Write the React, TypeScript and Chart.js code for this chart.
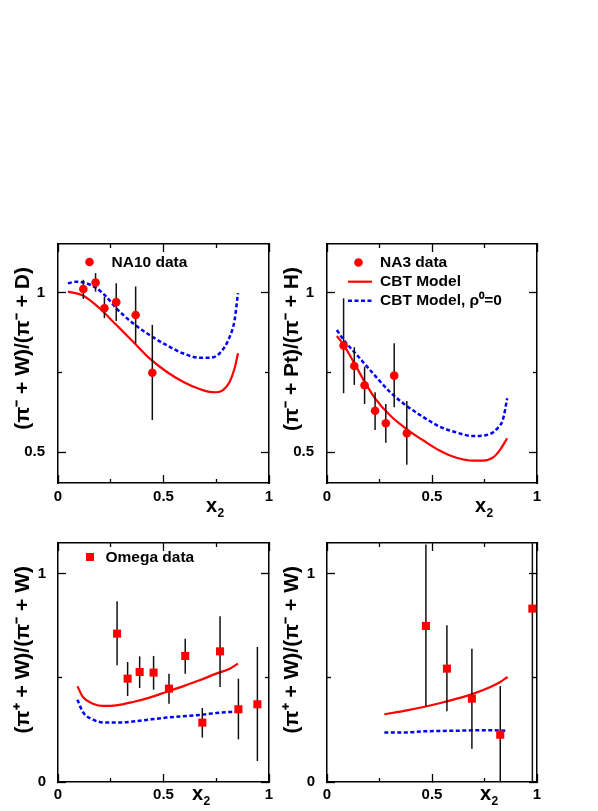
import React, { useEffect, useRef } from "react";
import { Chart, registerables } from "chart.js";
Chart.register(...registerables);

const FONT = '"Liberation Sans", Arial, Helvetica, sans-serif';
const RED = "#ff0000";
const BLUE = "#0000ff";

// ---- tick values ----
const xMajorTicks = [0, 0.5, 1];
const xMinorTicks = [0.25, 0.75];
const yTopMajorTicks = [0.5, 1];
const yTopMinorTicks = [0.75];
const yBotMajorTicks = [0, 1];
const yBotMinorTicks = [0.5];

// ---- labels ----
const yTitleTL = "(π⁻ + W)/(π⁻ + D)";
const yTitleTR = "(π⁻ + Pt)/(π⁻ + H)";
const yTitleBot = "(π⁺ + W)/(π⁻ + W)";
const labelNA10 = "NA10 data";
const labelNA3 = "NA3 data";
const labelOmega = "Omega data";
const labelCBT = "CBT Model";
const labelCBTrho = "CBT Model, ρ⁰=0";

// ---- panel 1: NA10 ----
const na10X = [0.12, 0.178, 0.22, 0.276, 0.368, 0.447];
const na10Y = [1.011, 1.031, 0.951, 0.97, 0.93, 0.749];
const na10Lo = [0.98, 1.003, 0.92, 0.911, 0.841, 0.601];
const na10Hi = [1.04, 1.061, 0.987, 1.029, 1.019, 0.899];
const na10CbtX = [0.047, 0.118, 0.197, 0.276, 0.355, 0.434, 0.513, 0.592, 0.671, 0.711, 0.75, 0.782, 0.814, 0.837, 0.853];
const na10CbtY = [1.003, 0.991, 0.951, 0.899, 0.847, 0.794, 0.753, 0.721, 0.698, 0.69, 0.688, 0.695, 0.721, 0.763, 0.81];
const na10RhoX = [0.047, 0.087, 0.134, 0.182, 0.229, 0.276, 0.355, 0.434, 0.513, 0.592, 0.671, 0.719, 0.766, 0.814, 0.837, 0.853];
const na10RhoY = [1.029, 1.034, 1.029, 1.014, 0.987, 0.951, 0.904, 0.867, 0.836, 0.81, 0.796, 0.796, 0.81, 0.862, 0.914, 0.998];

// ---- panel 2: NA3 ----
const na3X = [0.079, 0.13, 0.179, 0.229, 0.28, 0.32, 0.38];
const na3Y = [0.834, 0.77, 0.71, 0.63, 0.591, 0.74, 0.56];
const na3Lo = [0.685, 0.711, 0.651, 0.57, 0.53, 0.641, 0.461];
const na3Hi = [0.982, 0.829, 0.768, 0.688, 0.651, 0.841, 0.661];
const na3CbtX = [0.047, 0.079, 0.13, 0.179, 0.229, 0.301, 0.38, 0.459, 0.538, 0.617, 0.696, 0.744, 0.791, 0.823, 0.858];
const na3CbtY = [0.864, 0.836, 0.779, 0.721, 0.669, 0.615, 0.572, 0.537, 0.505, 0.483, 0.474, 0.474, 0.484, 0.507, 0.544];
const na3RhoX = [0.047, 0.079, 0.142, 0.222, 0.301, 0.38, 0.459, 0.538, 0.617, 0.696, 0.759, 0.807, 0.839, 0.858];
const na3RhoY = [0.883, 0.852, 0.805, 0.745, 0.688, 0.645, 0.61, 0.58, 0.562, 0.551, 0.554, 0.572, 0.606, 0.669];

// ---- panel 3: Omega (full range) ----
const omX = [0.28, 0.33, 0.387, 0.453, 0.526, 0.603, 0.684, 0.768, 0.855, 0.945];
const omY = [0.712, 0.496, 0.528, 0.525, 0.448, 0.605, 0.285, 0.627, 0.349, 0.373];
const omLo = [0.56, 0.413, 0.451, 0.443, 0.376, 0.52, 0.213, 0.456, 0.205, 0.101];
const omHi = [0.867, 0.576, 0.603, 0.605, 0.52, 0.688, 0.355, 0.795, 0.496, 0.648];
const omCbtX = [0.092, 0.118, 0.166, 0.213, 0.276, 0.355, 0.434, 0.513, 0.592, 0.671, 0.75, 0.814, 0.853];
const omCbtY = [0.459, 0.408, 0.376, 0.365, 0.368, 0.384, 0.405, 0.432, 0.459, 0.488, 0.52, 0.544, 0.568];
const omRhoX = [0.092, 0.118, 0.166, 0.229, 0.308, 0.387, 0.513, 0.671, 0.75, 0.853];
const omRhoY = [0.395, 0.336, 0.299, 0.285, 0.286, 0.294, 0.309, 0.322, 0.331, 0.339];

// ---- panel 4: Omega (second set) ----
const om2X = [0.471, 0.571, 0.69, 0.825, 0.978];
const om2Y = [0.749, 0.544, 0.4, 0.227, 0.832];
const om2Lo = [0.365, 0.339, 0.16, -0.1, -0.5];
const om2Hi = [1.14, 0.752, 0.64, 0.461, 2.0];
const om2CbtX = [0.273, 0.381, 0.46, 0.54, 0.619, 0.698, 0.778, 0.825, 0.86];
const om2CbtY = [0.325, 0.344, 0.36, 0.379, 0.4, 0.424, 0.456, 0.48, 0.504];
const om2RhoX = [0.273, 0.381, 0.46, 0.54, 0.619, 0.698, 0.778, 0.86];
const om2RhoY = [0.237, 0.238, 0.243, 0.245, 0.246, 0.248, 0.248, 0.246];

type LegendItem = { kind: "circle" | "rect" | "line" | "dash"; text: string; dx: number; dy: number; tx: number };

type Panel = {
  key: string;
  canvas: { left: number; top: number; w: number; h: number };
  area: { l: number; t: number; r: number; b: number };
  yMin: number;
  yMax: number;
  yMajor: number[];
  yMinor: number[];
  xPad: number;
  yPad: number;
  yTitle: string;
  x2DX: number;
  x2DY: number;
  marker: "circle" | "rect";
  dataX: number[];
  dataY: number[];
  dataLo: number[];
  dataHi: number[];
  cbtX: number[];
  cbtY: number[];
  rhoX: number[];
  rhoY: number[];
  legend: LegendItem[];
};

const panels: Panel[] = [
  {
    key: "tl",
    canvas: { left: 0, top: 230, w: 290, h: 290 },
    area: { l: 58, t: 244, r: 269, b: 483 },
    yMin: 0.404, yMax: 1.152, yMajor: yTopMajorTicks, yMinor: yTopMinorTicks,
    xPad: 13, yPad: 21, yTitle: yTitleTL, x2DX: 148, x2DY: 29, marker: "circle",
    dataX: na10X, dataY: na10Y, dataLo: na10Lo, dataHi: na10Hi,
    cbtX: na10CbtX, cbtY: na10CbtY, rhoX: na10RhoX, rhoY: na10RhoY,
    legend: [{ kind: "circle", text: labelNA10, dx: 31.5, dy: 18, tx: 53.5 }],
  },
  {
    key: "tr",
    canvas: { left: 280, top: 230, w: 318, h: 290 },
    area: { l: 327, t: 244, r: 537, b: 483 },
    yMin: 0.404, yMax: 1.152, yMajor: yTopMajorTicks, yMinor: yTopMinorTicks,
    xPad: 13, yPad: 21, yTitle: yTitleTR, x2DX: 148, x2DY: 29, marker: "circle",
    dataX: na3X, dataY: na3Y, dataLo: na3Lo, dataHi: na3Hi,
    cbtX: na3CbtX, cbtY: na3CbtY, rhoX: na3RhoX, rhoY: na3RhoY,
    legend: [
      { kind: "circle", text: labelNA3, dx: 31.5, dy: 18.5, tx: 53 },
      { kind: "line", text: labelCBT, dx: 33, dy: 37.7, tx: 53 },
      { kind: "dash", text: labelCBTrho, dx: 33, dy: 56.7, tx: 53 },
    ],
  },
  {
    key: "bl",
    canvas: { left: 0, top: 520, w: 290, h: 291 },
    area: { l: 58, t: 543, r: 269, b: 782 },
    yMin: 0, yMax: 1.147, yMajor: yBotMajorTicks, yMinor: yBotMinorTicks,
    xPad: 12, yPad: 20, yTitle: yTitleBot, x2DX: 134, x2DY: 18, marker: "rect",
    dataX: omX, dataY: omY, dataLo: omLo, dataHi: omHi,
    cbtX: omCbtX, cbtY: omCbtY, rhoX: omRhoX, rhoY: omRhoY,
    legend: [{ kind: "rect", text: labelOmega, dx: 32, dy: 14, tx: 47.5 }],
  },
  {
    key: "br",
    canvas: { left: 280, top: 520, w: 318, h: 291 },
    area: { l: 327, t: 543, r: 537, b: 782 },
    yMin: 0, yMax: 1.147, yMajor: yBotMajorTicks, yMinor: yBotMinorTicks,
    xPad: 12, yPad: 20, yTitle: yTitleBot, x2DX: 153, x2DY: 18, marker: "rect",
    dataX: om2X, dataY: om2Y, dataLo: om2Lo, dataHi: om2Hi,
    cbtX: om2CbtX, cbtY: om2CbtY, rhoX: om2RhoX, rhoY: om2RhoY,
    legend: [],
  },
];

function pts(xs: number[], ys: number[]) {
  return xs.map((x, i) => ({ x, y: ys[i] }));
}

function makeScale(
  axis: "x" | "y",
  position: string,
  ticks: number[],
  min: number,
  max: number,
  major: boolean,
  labelled: boolean,
  size: number,
  pad: number,
  weight: number
) {
  return {
    type: "linear",
    axis,
    position,
    min,
    max,
    bounds: "data",
    weight,
    afterBuildTicks: (s: any) => {
      s.ticks = ticks.map((v) => ({ value: v }));
    },
    afterFit: (s: any) => {
      if (axis === "x") s.height = size;
      else s.width = size;
      s.paddingTop = 0;
      s.paddingBottom = 0;
      s.paddingLeft = 0;
      s.paddingRight = 0;
    },
    grid: {
      display: true,
      drawOnChartArea: false,
      drawTicks: true,
      tickLength: major ? -8 : -4,
      tickWidth: 1.3,
      tickColor: "#000",
    },
    border: { display: major, color: "#000", width: 1.5 },
    ticks: {
      display: labelled,
      padding: pad,
      color: "#000",
      autoSkip: false,
      maxRotation: 0,
      minRotation: 0,
      font: { family: FONT, size: 15, weight: "bold" },
      callback: (v: any) => String(v),
    },
  };
}

function decorPlugin(p: Panel) {
  return {
    id: "decor_" + p.key,
    afterDraw(chart: any) {
      const ctx: CanvasRenderingContext2D = chart.ctx;
      const ca = chart.chartArea;
      ctx.save();
      ctx.fillStyle = "#000";
      // y-axis title (end aligned near top)
      ctx.save();
      ctx.translate(ca.left - 35, ca.top + 23);
      ctx.rotate(-Math.PI / 2);
      ctx.font = `bold 21px ${FONT}`;
      ctx.textAlign = "right";
      ctx.textBaseline = "middle";
      ctx.fillText(p.yTitle, 0, 0);
      ctx.restore();
      // x-axis title x_2
      ctx.font = `bold 20px ${FONT}`;
      ctx.textAlign = "left";
      ctx.textBaseline = "alphabetic";
      const bx = ca.left + p.x2DX;
      const by = ca.bottom + p.x2DY;
      ctx.fillText("x", bx, by);
      const w = ctx.measureText("x").width;
      ctx.font = `bold 12px ${FONT}`;
      ctx.fillText("2", bx + w + 0.5, by + 4.5);
      // legend
      for (const it of p.legend) {
        const cx = ca.left + it.dx;
        const cy = ca.top + it.dy;
        if (it.kind === "circle") {
          ctx.fillStyle = RED;
          ctx.beginPath();
          ctx.arc(cx, cy, 4.3, 0, Math.PI * 2);
          ctx.fill();
        } else if (it.kind === "rect") {
          ctx.fillStyle = RED;
          ctx.fillRect(cx - 4, cy - 4, 8, 8);
        } else {
          ctx.strokeStyle = it.kind === "line" ? RED : BLUE;
          ctx.lineWidth = it.kind === "line" ? 2.2 : 2.5;
          ctx.setLineDash(it.kind === "line" ? [] : [4, 2.5]);
          ctx.beginPath();
          ctx.moveTo(cx - 12, cy);
          ctx.lineTo(cx + 12, cy);
          ctx.stroke();
          ctx.setLineDash([]);
        }
        ctx.fillStyle = "#000";
        ctx.font = `bold 15.5px ${FONT}`;
        ctx.textBaseline = "middle";
        ctx.textAlign = "left";
        ctx.fillText(it.text, ca.left + it.tx, cy + 0.5);
      }
      ctx.restore();
    },
  };
}

function buildConfig(p: Panel): any {
  const datasets: any[] = [];
  datasets.push({
    label: p.legend.length ? p.legend[0].text : "data",
    data: pts(p.dataX, p.dataY),
    showLine: false,
    pointStyle: p.marker,
    pointRadius: p.marker === "rect" ? 5.7 : 4.3,
    pointBackgroundColor: RED,
    pointBorderWidth: 0,
    borderWidth: 0,
  });
  p.dataX.forEach((x, i) => {
    datasets.push({
      label: "error",
      data: [
        { x, y: p.dataLo[i] },
        { x, y: p.dataHi[i] },
      ],
      borderColor: "#111",
      borderWidth: 1.5,
      pointRadius: 0,
      tension: 0,
    });
  });
  datasets.push({
    label: labelCBT,
    data: pts(p.cbtX, p.cbtY),
    borderColor: RED,
    borderWidth: 2.2,
    pointRadius: 0,
    cubicInterpolationMode: "monotone",
  });
  datasets.push({
    label: labelCBTrho,
    data: pts(p.rhoX, p.rhoY),
    borderColor: BLUE,
    borderWidth: 2.5,
    borderDash: [4, 2.5],
    pointRadius: 0,
    cubicInterpolationMode: "monotone",
  });

  const c = p.canvas;
  const a = p.area;
  const yW = a.l - c.left;
  const xH = c.top + c.h - a.b;

  return {
    type: "line",
    data: { datasets },
    options: {
      responsive: false,
      animation: false,
      events: [],
      layout: {
        padding: { left: 0, top: a.t - c.top, right: c.left + c.w - a.r, bottom: 0 },
      },
      plugins: { legend: { display: false }, tooltip: { enabled: false }, title: { display: false } },
      scales: {
        x: makeScale("x", "bottom", xMajorTicks, 0, 1, true, true, xH, p.xPad, 1),
        xm: makeScale("x", "bottom", xMinorTicks, 0, 1, false, false, 0, 0, 0),
        xt: makeScale("x", "top", xMajorTicks, 0, 1, true, false, 0, 0, 1),
        xtm: makeScale("x", "top", xMinorTicks, 0, 1, false, false, 0, 0, 0),
        y: makeScale("y", "left", p.yMajor, p.yMin, p.yMax, true, true, yW, p.yPad, 1),
        ym: makeScale("y", "left", p.yMinor, p.yMin, p.yMax, false, false, 0, 0, 0),
        yr: makeScale("y", "right", p.yMajor, p.yMin, p.yMax, true, false, 0, 0, 1),
        yrm: makeScale("y", "right", p.yMinor, p.yMin, p.yMax, false, false, 0, 0, 0),
      },
    },
    plugins: [decorPlugin(p)],
  };
}

function PanelChart({ p }: { p: Panel }) {
  const ref = useRef<HTMLCanvasElement>(null);
  useEffect(() => {
    if (!ref.current) return;
    const chart = new Chart(ref.current, buildConfig(p));
    return () => chart.destroy();
  }, [p]);
  return (
    <canvas
      ref={ref}
      width={p.canvas.w}
      height={p.canvas.h}
      style={{
        position: "absolute",
        left: p.canvas.left,
        top: p.canvas.top,
        width: p.canvas.w,
        height: p.canvas.h,
      }}
    />
  );
}

export default function App() {
  return (
    <div
      style={{
        position: "absolute",
        left: 0,
        top: 0,
        width: 598,
        height: 811,
        background: "#fff",
        overflow: "hidden",
      }}
    >
      {panels.map((p) => (
        <PanelChart key={p.key} p={p} />
      ))}
    </div>
  );
}
